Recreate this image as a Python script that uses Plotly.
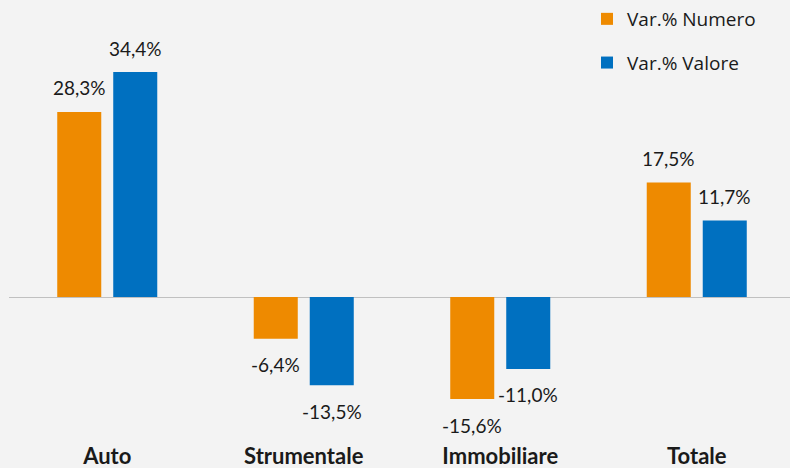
import plotly.graph_objects as go

categories = ["Auto", "Strumentale", "Immobiliare", "Totale"]
var_numero = [28.3, -6.4, -15.6, 17.5]
var_valore = [34.4, -13.5, -11.0, 11.7]
series_names = ["Var.% Numero", "Var.% Valore"]
colors = ["#EE8A00", "#0070C0"]

W, H = 790, 468
ml, mr, mt, mb = 9, 0, 0, 28
plot_h = H - mt - mb
zero_px = 297
px_per_unit = 6.54
y_top = (zero_px - mt) / px_per_unit
y_bot = -(plot_h - (zero_px - mt)) / px_per_unit
cat_px = 196.5
x_hi = -0.5 + (W - ml - mr) / cat_px

def fmt(v):
    return f"{v:.1f}".replace(".", ",") + "%"

fig = go.Figure()
for i, (name, vals, col) in enumerate(zip(series_names, [var_numero, var_valore], colors)):
    fig.add_trace(go.Bar(
        x=categories, y=vals, name=name, marker=dict(color=col, line=dict(width=0)),
        legendgroup=name,
    ))

annotations = []
for i, vals in enumerate([var_numero, var_valore]):
    xs = -28 if i == 0 else 28
    for c, v in zip(categories, vals):
        annotations.append(dict(
            x=c, y=v, xref="x", yref="y", text=fmt(v), showarrow=False,
            xshift=xs, yshift=24 if v >= 0 else -26,
            font=dict(family="Lato", size=19, color="#1a1a1a"),
        ))

fig.update_layout(
    width=W, height=H,
    margin=dict(l=ml, r=mr, t=mt, b=mb, pad=0, autoexpand=False),
    paper_bgcolor="#f3f3f3", plot_bgcolor="rgba(0,0,0,0)",
    barmode="group", bargap=0.43, bargroupgap=0.214,
    showlegend=True,
    legend=dict(
        xref="container", yref="container", x=587 / W, y=1.0,
        xanchor="left", yanchor="top",
        font=dict(family="Open Sans", size=19, color="#1a1a1a"),
        bgcolor="rgba(0,0,0,0)", tracegroupgap=16, traceorder="grouped",
    ),
    xaxis=dict(
        range=[-0.5, x_hi], showgrid=False, showline=False, ticks="",
        tickfont=dict(family="Lato", size=22, color="#1a1a1a", weight="bold"),
        ticklabelstandoff=1,
    ),
    yaxis=dict(
        range=[y_bot, y_top], showgrid=False, showticklabels=False, ticks="",
        zeroline=True, zerolinecolor="#c0c0c0", zerolinewidth=1,
    ),
    annotations=annotations,
)

fig.write_html(
    "out.html",
    config={"displayModeBar": False},
    post_script="document.body.style.margin='0';document.body.style.overflow='hidden';",
)
